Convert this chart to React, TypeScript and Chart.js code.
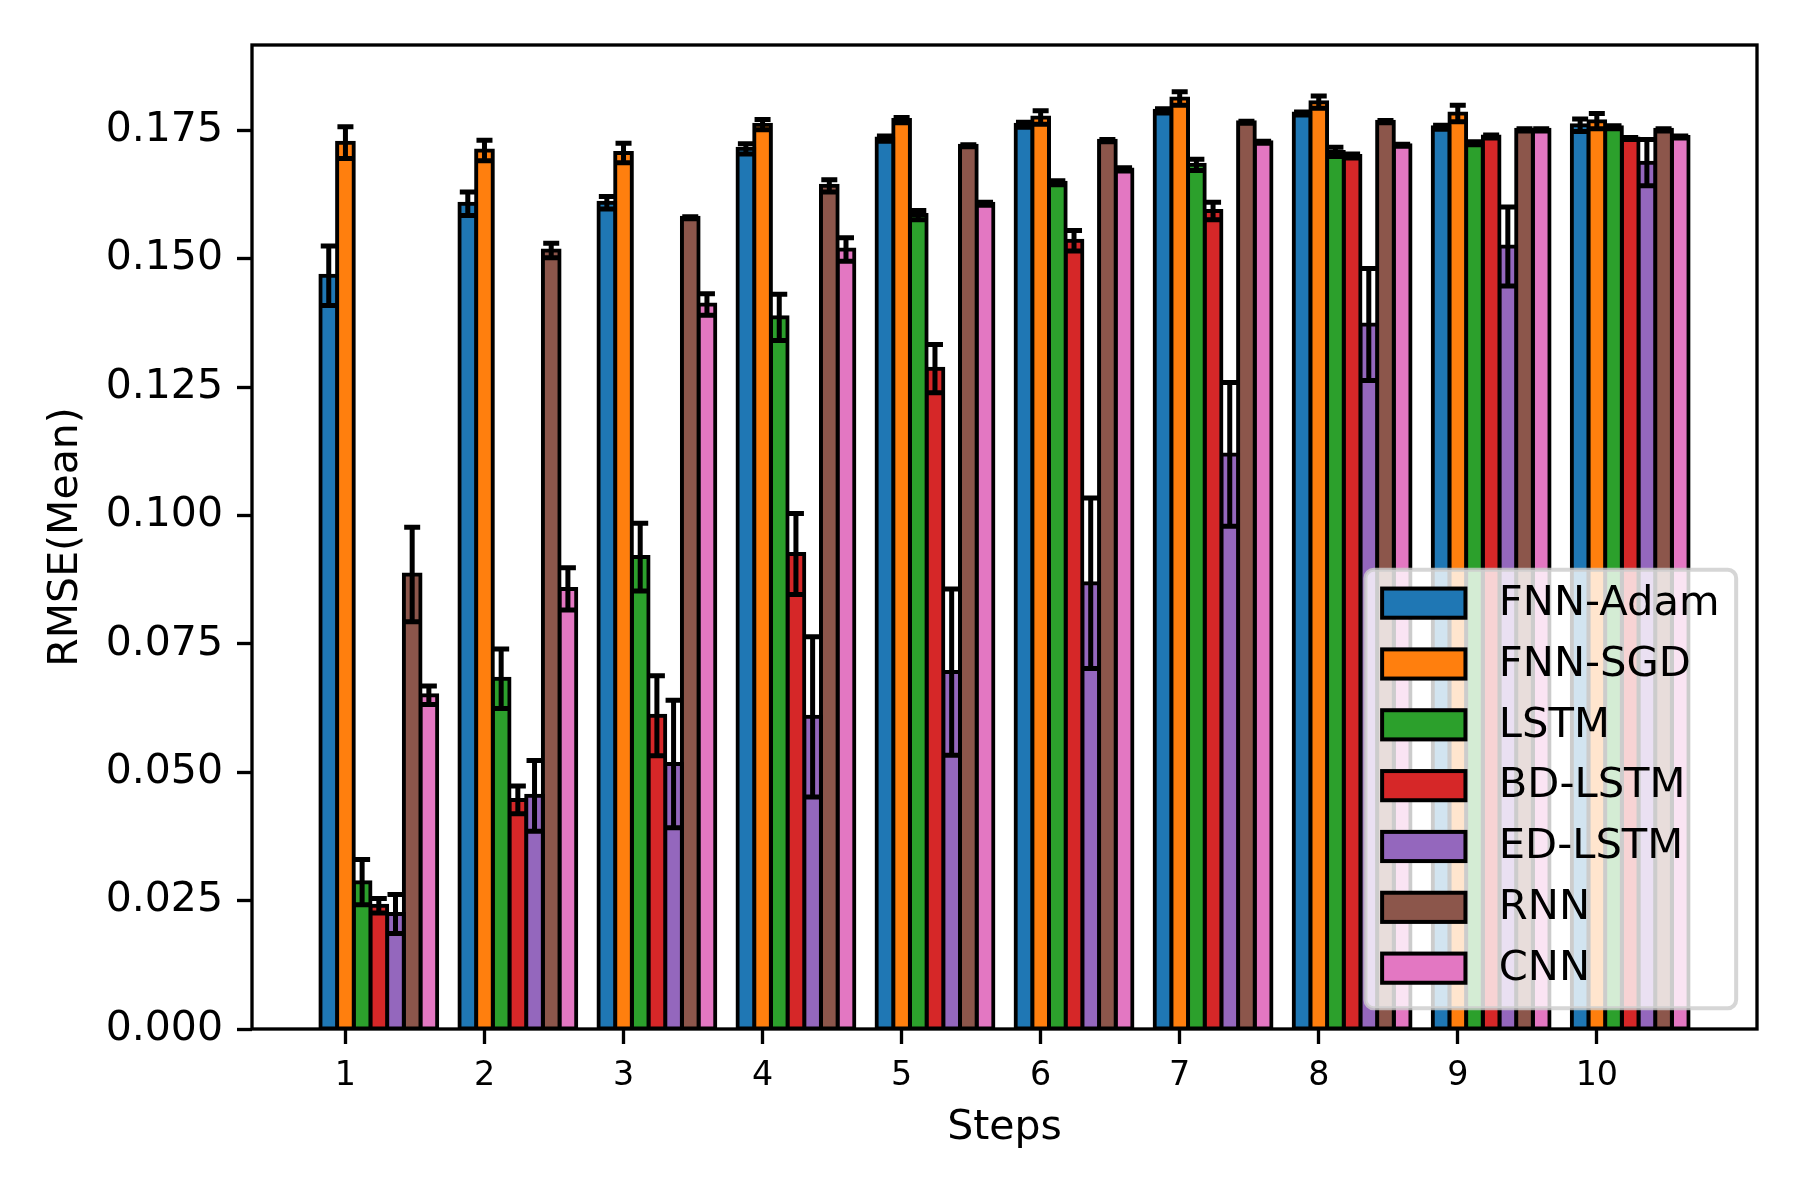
import { Chart, registerables, type Plugin } from 'chart.js'
import { useEffect, useRef } from 'react'

Chart.register(...registerables)

const steps = [1, 2, 3, 4, 5, 6, 7, 8, 9, 10]
const models = ['FNN-Adam', 'FNN-SGD', 'LSTM', 'BD-LSTM', 'ED-LSTM', 'RNN', 'CNN']
const colors = ['#1f77b4', '#ff7f0e', '#2ca02c', '#d62728', '#9467bd', '#8c564b', '#e377c2']

// mean RMSE per step
const fnnAdamMean = [0.1467, 0.1607, 0.1609, 0.1714, 0.1734, 0.1761, 0.1788, 0.1783, 0.1756, 0.176]
const fnnSgdMean = [0.1726, 0.1711, 0.1706, 0.1761, 0.177, 0.1775, 0.1812, 0.1805, 0.1783, 0.1768]
const lstmMean = [0.0286, 0.0682, 0.0919, 0.1386, 0.1585, 0.1648, 0.1683, 0.1708, 0.1725, 0.1756]
const bdLstmMean = [0.024, 0.0446, 0.061, 0.0925, 0.1286, 0.1535, 0.1593, 0.17, 0.1738, 0.1734]
const edLstmMean = [0.0224, 0.0454, 0.0516, 0.0608, 0.0695, 0.0868, 0.1119, 0.1372, 0.1524, 0.1687]
const rnnMean = [0.0885, 0.1516, 0.158, 0.1642, 0.172, 0.173, 0.1766, 0.1767, 0.1751, 0.1751]
const cnnMean = [0.065, 0.0857, 0.1411, 0.1518, 0.1607, 0.1674, 0.1727, 0.1721, 0.1751, 0.1737]

// half-length of the error bars
const fnnAdamErr = [0.0058, 0.0023, 0.0012, 0.001, 0.0005, 0.0005, 0.0004, 0.0003, 0.0004, 0.0012]
const fnnSgdErr = [0.0031, 0.002, 0.0019, 0.001, 0.0005, 0.0013, 0.0013, 0.0012, 0.0016, 0.0015]
const lstmErr = [0.0044, 0.0058, 0.0066, 0.0045, 0.0009, 0.0004, 0.0011, 0.0009, 0.0003, 0.0003]
const bdLstmErr = [0.0014, 0.0027, 0.0078, 0.0079, 0.0047, 0.002, 0.0017, 0.0004, 0.0003, 0.0002]
const edLstmErr = [0.0038, 0.0069, 0.0124, 0.0156, 0.0162, 0.0166, 0.014, 0.0109, 0.0077, 0.0045]
const rnnErr = [0.0092, 0.0014, 0.0002, 0.0012, 0.0002, 0.0002, 0.0002, 0.0002, 0.0002, 0.0002]
const cnnErr = [0.0018, 0.0041, 0.0021, 0.0023, 0.0003, 0.0003, 0.0002, 0.0002, 0.0002, 0.0002]

const means = [fnnAdamMean, fnnSgdMean, lstmMean, bdLstmMean, edLstmMean, rnnMean, cnnMean]
const errors = [fnnAdamErr, fnnSgdErr, lstmErr, bdLstmErr, edLstmErr, rnnErr, cnnErr]

const yTicks = [0, 0.025, 0.05, 0.075, 0.1, 0.125, 0.15, 0.175]
const barWidth = 0.12

const FONT = "'DejaVu Sans', sans-serif"
const FS = 41.67 // 10pt at 300 dpi

// axis limits the way matplotlib autoscales (5% margins)
const xLo = steps[0] - barWidth - barWidth / 2
const xHi = steps[steps.length - 1] + (models.length - 2) * barWidth + barWidth / 2
const xMargin = (xHi - xLo) * 0.05
const yTop = Math.max(...means.flatMap((m, i) => m.map((v, j) => v + errors[i][j]))) * 1.05

const overlay: Plugin<'bar'> = {
  id: 'overlay',
  afterDatasetsDraw(chart) {
    const { ctx, chartArea, scales } = chart
    const yScale = scales.y

    // error bars
    ctx.save()
    ctx.strokeStyle = '#000'
    ctx.lineWidth = 5
    ctx.lineCap = 'butt'
    means.forEach((_, i) => {
      const meta = chart.getDatasetMeta(i)
      meta.data.forEach((bar, j) => {
        const x = bar.x
        const top = yScale.getPixelForValue(means[i][j] + errors[i][j])
        const bot = yScale.getPixelForValue(means[i][j] - errors[i][j])
        ctx.beginPath()
        ctx.moveTo(x, top)
        ctx.lineTo(x, bot)
        ctx.moveTo(x - 8, top)
        ctx.lineTo(x + 8, top)
        ctx.moveTo(x - 8, bot)
        ctx.lineTo(x + 8, bot)
        ctx.stroke()
      })
    })

    // spines
    ctx.lineWidth = 3.33
    ctx.strokeRect(chartArea.left, chartArea.top, chartArea.right - chartArea.left, chartArea.bottom - chartArea.top)

    // legend, lower right
    ctx.font = `${FS}px ${FONT}`
    const pad = 0.4 * FS
    const handleW = 2 * FS
    const handleH = 0.7 * FS
    const textPad = 0.8 * FS
    const pitch = 1.46 * FS
    const textW = Math.max(...models.map((m) => ctx.measureText(m).width))
    const boxW = pad + handleW + textPad + textW + pad
    const boxH = 2 * pad + pitch * (models.length - 1) + 0.96 * FS
    const right = chartArea.right - 0.5 * FS
    const bottom = chartArea.bottom - 0.5 * FS
    const left = right - boxW
    const top = bottom - boxH

    ctx.beginPath()
    ctx.roundRect(left, top, boxW, boxH, 0.2 * FS)
    ctx.fillStyle = 'rgba(255,255,255,0.8)'
    ctx.fill()
    ctx.lineWidth = 4
    ctx.strokeStyle = 'rgba(204,204,204,0.8)'
    ctx.stroke()

    ctx.textBaseline = 'middle'
    ctx.textAlign = 'left'
    models.forEach((name, i) => {
      const cy = top + pad + 0.4 * FS + i * pitch
      const hx = left + pad
      ctx.fillStyle = colors[i]
      ctx.fillRect(hx, cy - handleH / 2, handleW, handleH)
      ctx.lineWidth = 4
      ctx.strokeStyle = '#000'
      ctx.strokeRect(hx, cy - handleH / 2, handleW, handleH)
      ctx.fillStyle = '#000'
      ctx.fillText(name, hx + handleW + textPad, cy + 1)
    })
    ctx.restore()
  },
}

export default function App() {
  const canvasRef = useRef<HTMLCanvasElement | null>(null)

  useEffect(() => {
    document.body.style.margin = '0'
    if (!canvasRef.current) {
      return
    }

    const chart = new Chart(canvasRef.current, {
      type: 'bar',
      data: {
        datasets: models.map((name, i) => ({
          label: name,
          data: steps.map((s, j) => ({ x: s + (i - 1) * barWidth, y: means[i][j] })),
          backgroundColor: colors[i],
          borderColor: '#000',
          borderWidth: 4,
          borderSkipped: false,
          inflateAmount: 2,
          grouped: false,
          categoryPercentage: 1,
          barPercentage: 1,
        })),
      },
      options: {
        responsive: false,
        devicePixelRatio: 1,
        animation: false,
        layout: { padding: { left: 0, top: 45, right: 43, bottom: 0 } },
        plugins: {
          legend: { display: false },
          tooltip: { enabled: false },
        },
        scales: {
          x: {
            type: 'linear',
            min: xLo - xMargin,
            max: xHi + xMargin,
            offset: false,
            afterBuildTicks: (scale) => {
              scale.ticks = steps.map((v) => ({ value: v }))
            },
            afterFit: (scale) => {
              scale.height = 171
            },
            ticks: {
              autoSkip: false,
              maxRotation: 0,
              padding: 12,
              color: '#000',
              font: { family: FONT, size: 33.3 },
              callback: (v) => String(v),
            },
            grid: {
              offset: false,
              drawOnChartArea: false,
              drawTicks: true,
              tickLength: 15,
              tickWidth: 3.33,
              tickColor: '#000',
            },
            border: { display: false },
            title: {
              display: true,
              text: 'Steps',
              color: '#000',
              font: { family: FONT, size: 41 },
              padding: { top: 0, bottom: 47 },
            },
          },
          y: {
            type: 'linear',
            min: 0,
            max: yTop,
            afterBuildTicks: (scale) => {
              scale.ticks = yTicks.map((v) => ({ value: v }))
            },
            afterFit: (scale) => {
              scale.width = 252
            },
            ticks: {
              padding: 14,
              color: '#000',
              font: { family: FONT, size: 41 },
              callback: (v) => Number(v).toFixed(3),
            },
            grid: {
              drawOnChartArea: false,
              drawTicks: true,
              tickLength: 15,
              tickWidth: 3.33,
              tickColor: '#000',
            },
            border: { display: false },
            title: {
              display: true,
              text: 'RMSE(Mean)',
              color: '#000',
              font: { family: FONT, size: 41 },
              padding: { top: 42, bottom: 0 },
            },
          },
        },
      },
      plugins: [overlay],
    })

    return () => {
      chart.destroy()
    }
  }, [])

  return (
    <div style={{ width: 1800, height: 1200, background: '#fff' }}>
      <canvas ref={canvasRef} width={1800} height={1200} style={{ display: 'block' }} />
    </div>
  )
}
